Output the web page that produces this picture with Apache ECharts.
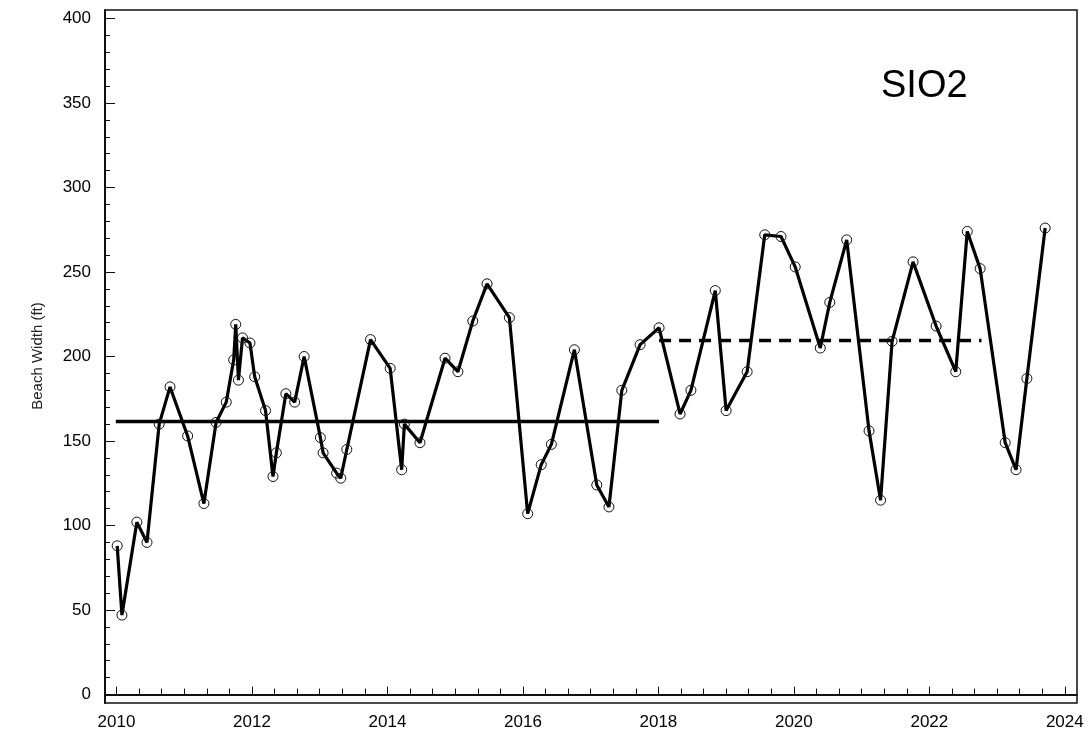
<!DOCTYPE html>
<html>
<head>
<meta charset="utf-8">
<script src="https://cdn.jsdelivr.net/npm/echarts@6/dist/echarts.min.js"></script>
<style>html,body{margin:0;padding:0;background:#fff}#chart{width:1091px;height:740px}</style>
</head>
<body>
<div id="chart"></div>
<script>
// Survey dates (decimal years) and beach widths (ft)
var surveyYears = [2010.01, 2010.08, 2010.30, 2010.45, 2010.63, 2010.79,
  2011.05, 2011.29, 2011.47, 2011.62, 2011.73, 2011.76, 2011.80, 2011.86, 2011.97,
  2012.04, 2012.20, 2012.31, 2012.36, 2012.50, 2012.63, 2012.77,
  2013.01, 2013.05, 2013.25, 2013.31, 2013.40, 2013.75,
  2014.04, 2014.21, 2014.25, 2014.48, 2014.85,
  2015.04, 2015.26, 2015.47, 2015.80,
  2016.07, 2016.27, 2016.42, 2016.76,
  2017.09, 2017.27, 2017.46, 2017.73,
  2018.01, 2018.32, 2018.48, 2018.84,
  2019.00, 2019.31, 2019.57, 2019.81,
  2020.02, 2020.39, 2020.53, 2020.78,
  2021.11, 2021.28, 2021.45, 2021.76,
  2022.10, 2022.39, 2022.56, 2022.75,
  2023.12, 2023.28, 2023.44, 2023.71];
var beachWidth = [88, 47, 102, 90, 160, 182,
  153, 113, 161, 173, 198, 219, 186, 211, 208,
  188, 168, 129, 143, 178, 173, 200,
  152, 143, 131, 128, 145, 210,
  193, 133, 160, 149, 199,
  191, 221, 243, 223,
  107, 136, 148, 204,
  124, 111, 180, 207,
  217, 166, 180, 239,
  168, 191, 272, 271,
  253, 205, 232, 269,
  156, 115, 209, 256,
  218, 191, 274, 252,
  149, 133, 187, 276];
// Mean lines: [start year, end year, mean width]
var meanBefore = [2009.99, 2018.01, 161.5];
var meanAfter = [2018.01, 2022.77, 209.5];
// Tick labels
var xLabelYears = [2010, 2012, 2014, 2016, 2018, 2020, 2022, 2024];
var yLabelValues = [0, 50, 100, 150, 200, 250, 300, 350, 400];
var stationName = 'SIO2';
var yTitle = 'Beach Width (ft)';

var xMinorTicks = [];
for (var i = 0; i <= 42; i++) xMinorTicks.push(2010 + i / 3);
var yMinorTicks = [];
for (var v = 0; v <= 400; v += 10) yMinorTicks.push(v);

var pts = surveyYears.map(function (y, k) { return [y, beachWidth[k]]; });

var FONT = "'Liberation Sans', Arial, sans-serif";
var XMIN = 2009.83, XMAX = 2024.18, YMIN = -5, YMAX = 405;

var chart = echarts.init(document.getElementById('chart'), null, {renderer: 'canvas'});
chart.setOption({
  animation: false,
  backgroundColor: '#fff',
  grid: {left: 105, right: 14, top: 10, bottom: 37, show: true, borderColor: '#111', borderWidth: 1.5, backgroundColor: 'transparent'},
  xAxis: [{
    type: 'value', min: XMIN, max: XMAX,
    axisLine: {show: true, lineStyle: {color: '#111', width: 2}},
    axisTick: {show: true, inside: true, length: 6, customValues: xMinorTicks, lineStyle: {color: '#111', width: 1}},
    axisLabel: {show: true, customValues: xLabelYears, margin: 11, color: '#000', fontSize: 17, fontFamily: FONT,
      formatter: function (val) { return String(Math.round(val)); }},
    splitLine: {show: false}
  }, {
    type: 'value', min: XMIN, max: XMAX, position: 'bottom',
    axisLine: {show: false},
    axisTick: {show: true, inside: true, length: 8, customValues: xLabelYears, lineStyle: {color: '#111', width: 1}},
    axisLabel: {show: false},
    splitLine: {show: false}
  }],
  yAxis: [{
    type: 'value', min: YMIN, max: YMAX,
    axisLine: {show: true, lineStyle: {color: '#111', width: 2}},
    axisTick: {show: true, inside: true, length: 10, customValues: yLabelValues, lineStyle: {color: '#111', width: 1}},
    axisLabel: {show: true, customValues: yLabelValues, margin: 14, color: '#000', fontSize: 17, fontFamily: FONT},
    splitLine: {show: false}
  }, {
    type: 'value', min: YMIN, max: YMAX, position: 'left',
    axisLine: {show: false},
    axisTick: {show: true, inside: true, length: 5, customValues: yMinorTicks, lineStyle: {color: '#111', width: 1}},
    axisLabel: {show: false},
    splitLine: {show: false}
  }],
  graphic: [{
    type: 'text', left: 881, top: 68,
    style: {text: stationName, fill: '#000', font: "38px 'Liberation Sans', Arial, sans-serif"}
  }, {
    type: 'text', x: 38, y: 356, rotation: Math.PI / 2,
    style: {text: yTitle, fill: '#222', font: "15px 'Liberation Sans', Arial, sans-serif", align: 'center', verticalAlign: 'middle'}
  }],
  series: [{
    type: 'line', data: pts, xAxisIndex: 0, yAxisIndex: 0,
    symbol: 'circle', symbolSize: 10, showAllSymbol: true,
    lineStyle: {color: '#000', width: 3.2},
    itemStyle: {color: 'rgba(0,0,0,0)', borderColor: '#111', borderWidth: 1},
    z: 3
  }, {
    type: 'line', xAxisIndex: 0, yAxisIndex: 0, symbol: 'none',
    data: [[meanBefore[0], meanBefore[2]], [meanBefore[1], meanBefore[2]]],
    lineStyle: {color: '#000', width: 3.5}, z: 2
  }, {
    type: 'line', xAxisIndex: 0, yAxisIndex: 0, symbol: 'none',
    data: [[meanAfter[0], meanAfter[2]], [meanAfter[1], meanAfter[2]]],
    lineStyle: {color: '#000', width: 3.5, type: [12, 8]}, z: 2
  }]
});
</script>
</body>
</html>
